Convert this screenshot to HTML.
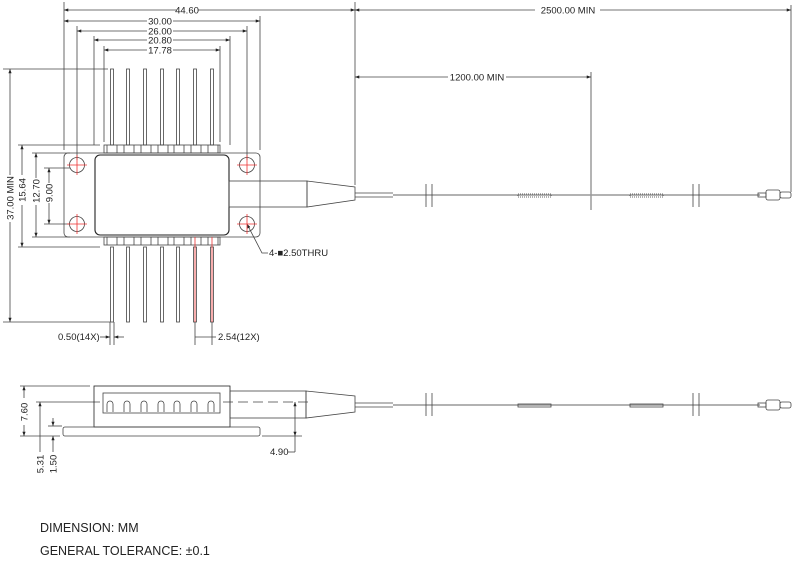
<!DOCTYPE html>
<html><head><style>
html,body{margin:0;padding:0;background:#fff;}
svg{display:block;}
text{font-family:"Liberation Sans",sans-serif;fill:#222;}
</style></head><body>
<svg width="800" height="567" viewBox="0 0 800 567" xmlns="http://www.w3.org/2000/svg">
<defs>
<marker id="a" viewBox="0 0 8 6" refX="8" refY="3" markerWidth="6" markerHeight="4" orient="auto-start-reverse"><path d="M0,0L8,3L0,6z" fill="#222"/></marker>
</defs>
<g stroke="#444" stroke-width="0.8" fill="none">
<!-- top dimensions -->
<line x1="64" y1="2" x2="64" y2="150"/>
<line x1="355" y1="2" x2="355" y2="185"/>
<line x1="791" y1="5" x2="791" y2="192"/>
<line x1="591" y1="72" x2="591" y2="210"/>
<line x1="260" y1="16" x2="260" y2="150"/>
<line x1="77" y1="26" x2="77" y2="160"/>
<line x1="247" y1="26" x2="247" y2="160"/>
<line x1="94" y1="36" x2="94" y2="145"/>
<line x1="230" y1="36" x2="230" y2="145"/>
<line x1="104" y1="46" x2="104" y2="142"/>
<line x1="220" y1="46" x2="220" y2="142"/>
<line x1="64" y1="10" x2="177" y2="10" marker-start="url(#a)"/><line x1="198" y1="10" x2="355" y2="10" marker-end="url(#a)"/>
<line x1="355" y1="10" x2="535" y2="10" marker-start="url(#a)"/><line x1="600" y1="10" x2="791" y2="10" marker-end="url(#a)"/>
<line x1="64" y1="21" x2="147" y2="21" marker-start="url(#a)"/><line x1="173" y1="21" x2="260" y2="21" marker-end="url(#a)"/>
<line x1="77" y1="31" x2="147" y2="31" marker-start="url(#a)"/><line x1="173" y1="31" x2="247" y2="31" marker-end="url(#a)"/>
<line x1="94" y1="40" x2="147" y2="40" marker-start="url(#a)"/><line x1="173" y1="40" x2="230" y2="40" marker-end="url(#a)"/>
<line x1="104" y1="50" x2="147" y2="50" marker-start="url(#a)"/><line x1="173" y1="50" x2="220" y2="50" marker-end="url(#a)"/>
<line x1="355" y1="77" x2="448" y2="77" marker-start="url(#a)"/><line x1="506" y1="77" x2="591" y2="77" marker-end="url(#a)"/>
<!-- left dims -->
<line x1="3" y1="69" x2="108" y2="69"/>
<line x1="3" y1="322" x2="110" y2="322"/>
<line x1="18" y1="145" x2="100" y2="145"/>
<line x1="18" y1="247" x2="100" y2="247"/>
<line x1="32" y1="153" x2="70" y2="153"/>
<line x1="32" y1="237" x2="70" y2="237"/>
<line x1="44" y1="168" x2="70" y2="168"/>
<line x1="44" y1="224" x2="70" y2="224"/>
<line x1="10" y1="69" x2="10" y2="175" marker-start="url(#a)"/><line x1="10" y1="222" x2="10" y2="322" marker-end="url(#a)"/>
<line x1="22" y1="145" x2="22" y2="175" marker-start="url(#a)"/><line x1="22" y1="205" x2="22" y2="247" marker-end="url(#a)"/>
<line x1="36" y1="153" x2="36" y2="178" marker-start="url(#a)"/><line x1="36" y1="205" x2="36" y2="237" marker-end="url(#a)"/>
<line x1="49" y1="168" x2="49" y2="183" marker-start="url(#a)"/><line x1="49" y1="203" x2="49" y2="224" marker-end="url(#a)"/>
<!-- flange and body -->
<rect x="64" y="153" width="196" height="84" rx="4"/>
<rect x="95" y="155" width="134" height="80" rx="5" stroke="#222" stroke-width="1.1"/>
<circle cx="77" cy="165" r="7.5"/><circle cx="247" cy="165" r="7.5"/>
<circle cx="77" cy="224" r="7.5"/><circle cx="247" cy="224" r="7.5"/>
<!-- snout -->
<rect x="229" y="181" width="78" height="26"/>
<path d="M307,181 L355,187 L355,200 L307,207 Z"/>
<line x1="355" y1="193" x2="393" y2="193"/><line x1="355" y1="197" x2="393" y2="197"/>
<line x1="393" y1="195" x2="760" y2="195" stroke-width="1.4" stroke="#999"/>
<line x1="426" y1="184" x2="426" y2="207"/><line x1="432" y1="184" x2="432" y2="207"/>
<line x1="693" y1="184" x2="693" y2="207"/><line x1="699" y1="184" x2="699" y2="207"/>
<rect x="518" y="194" width="33" height="3" stroke="#333" stroke-dasharray="1 1"/>
<rect x="630" y="194" width="33" height="3" stroke="#333" stroke-dasharray="1 1"/>
<rect x="758" y="193" width="8" height="4"/><rect x="766" y="190" width="14" height="10" rx="2"/><rect x="780" y="192" width="11" height="6" rx="2"/>
<!-- pins top -->
<g>
<rect x="110.5" y="69" width="3" height="76"/><rect x="126.5" y="69" width="3" height="76"/><rect x="143.5" y="69" width="3" height="76"/><rect x="160.5" y="69" width="3" height="76"/><rect x="176.5" y="69" width="3" height="76"/><rect x="193.5" y="69" width="3" height="76"/><rect x="210.5" y="69" width="3" height="76"/>
<rect x="104" y="145" width="116" height="8"/>
<rect x="110.5" y="247" width="3" height="75"/><rect x="126.5" y="247" width="3" height="75"/><rect x="143.5" y="247" width="3" height="75"/><rect x="160.5" y="247" width="3" height="75"/><rect x="176.5" y="247" width="3" height="75"/><rect x="193.5" y="247" width="3" height="75"/><rect x="210.5" y="247" width="3" height="75"/>
<rect x="104" y="237" width="116" height="8"/>
</g>
<path d="M107,145v8M117,145v8M124,145v8M134,145v8M141,145v8M151,145v8M158,145v8M168,145v8M174,145v8M184,145v8M191,145v8M201,145v8M208,145v8M218,145v8"/>
<path d="M107,237v8M117,237v8M124,237v8M134,237v8M141,237v8M151,237v8M158,237v8M168,237v8M174,237v8M184,237v8M191,237v8M201,237v8M208,237v8M218,237v8"/>
<!-- pin dims -->
<line x1="110" y1="322" x2="110" y2="345"/><line x1="114" y1="322" x2="114" y2="345"/>
<line x1="100" y1="337" x2="110" y2="337" marker-end="url(#a)"/><line x1="124" y1="337" x2="114" y2="337" marker-end="url(#a)"/>
<line x1="195" y1="322" x2="195" y2="345"/><line x1="212" y1="322" x2="212" y2="345"/>
<line x1="195" y1="337" x2="212" y2="337"/>
<line x1="212" y1="337" x2="216" y2="337"/>
<!-- leader -->
<path d="M247,224 L262,253 L268,253" marker-start="url(#a)"/>
<!-- side view -->
<line x1="20" y1="386" x2="90" y2="386"/>
<line x1="20" y1="436" x2="60" y2="436"/>
<line x1="36" y1="402" x2="100" y2="402"/>
<line x1="48" y1="426" x2="62" y2="426"/>
<line x1="262" y1="436" x2="302" y2="436"/>
<line x1="24" y1="386" x2="24" y2="398" marker-start="url(#a)"/><line x1="24" y1="425" x2="24" y2="436" marker-end="url(#a)"/>
<line x1="40" y1="402" x2="40" y2="436" marker-start="url(#a)"/><line x1="40" y1="436" x2="40" y2="452"/>
<line x1="53" y1="418" x2="53" y2="426" marker-end="url(#a)"/><line x1="53" y1="444" x2="53" y2="436" marker-end="url(#a)"/><line x1="53" y1="444" x2="53" y2="452"/>
<line x1="295" y1="402" x2="295" y2="436" marker-start="url(#a)" marker-end="url(#a)"/><line x1="295" y1="436" x2="295" y2="452"/><line x1="288" y1="452" x2="295" y2="452"/>
<rect x="94" y="386" width="136" height="41" stroke="#222"/>
<rect x="63" y="427" width="197" height="9" rx="2"/>
<rect x="103" y="393" width="117" height="20"/>
<path d="M107,412v-8a3,3 0 0 1 6,0v8M124,412v-8a3,3 0 0 1 6,0v8M141,412v-8a3,3 0 0 1 6,0v8M158,412v-8a3,3 0 0 1 6,0v8M174,412v-8a3,3 0 0 1 6,0v8M191,412v-8a3,3 0 0 1 6,0v8M208,412v-8a3,3 0 0 1 6,0v8"/>
<line x1="223" y1="402" x2="313" y2="402" stroke-dasharray="10 5"/>
<rect x="230" y="391" width="76" height="27"/>
<path d="M306,391 L355,396 L355,412 L306,418 Z"/>
<line x1="355" y1="403" x2="393" y2="403"/><line x1="355" y1="407" x2="393" y2="407"/>
<line x1="393" y1="405" x2="760" y2="405" stroke-width="1.4" stroke="#999"/>
<line x1="426" y1="393" x2="426" y2="416"/><line x1="432" y1="393" x2="432" y2="416"/>
<line x1="693" y1="393" x2="693" y2="416"/><line x1="699" y1="393" x2="699" y2="416"/>
<rect x="518" y="404" width="33" height="3"/><rect x="630" y="404" width="33" height="3"/>
<rect x="758" y="403" width="8" height="4"/><rect x="766" y="400" width="14" height="10" rx="2"/><rect x="780" y="402" width="11" height="6" rx="2"/>
</g>
<!-- red crosshairs -->
<g stroke="#e33" stroke-width="0.8">
<path d="M67,165h20M77,155v20M237,165h20M247,155v20M67,224h20M77,214v20M237,224h20M247,214v20"/>
<line x1="195" y1="237" x2="195" y2="322"/><line x1="212" y1="237" x2="212" y2="322"/>
</g>
<g font-size="9.5" text-anchor="middle">
<text x="187" y="13.5">44.60</text>
<text x="568" y="13.5">2500.00 MIN</text>
<text x="160" y="24.5">30.00</text>
<text x="160" y="34.5">26.00</text>
<text x="160" y="43.5">20.80</text>
<text x="160" y="53.5">17.78</text>
<text x="477" y="80.5">1200.00 MIN</text>
<text transform="translate(13.5,198) rotate(-90)">37.00 MIN</text>
<text transform="translate(25.5,190) rotate(-90)">15.64</text>
<text transform="translate(39.5,191) rotate(-90)">12.70</text>
<text transform="translate(52.5,193) rotate(-90)">9.00</text>
<text transform="translate(27.5,412) rotate(-90)">7.60</text>
<text transform="translate(43.5,464) rotate(-90)">5.31</text>
<text transform="translate(56.5,464) rotate(-90)">1.50</text>
</g>
<g font-size="9.5">
<text x="58" y="340">0.50(14X)</text>
<text x="218" y="340">2.54(12X)</text>
<text x="269" y="256">4-■2.50THRU</text>
<text x="270" y="455">4.90</text>
</g>
<text x="40" y="532" font-size="12.5">DIMENSION: MM</text>
<text x="40" y="555" font-size="12.5">GENERAL TOLERANCE: ±0.1</text>
</svg>
</body></html>
